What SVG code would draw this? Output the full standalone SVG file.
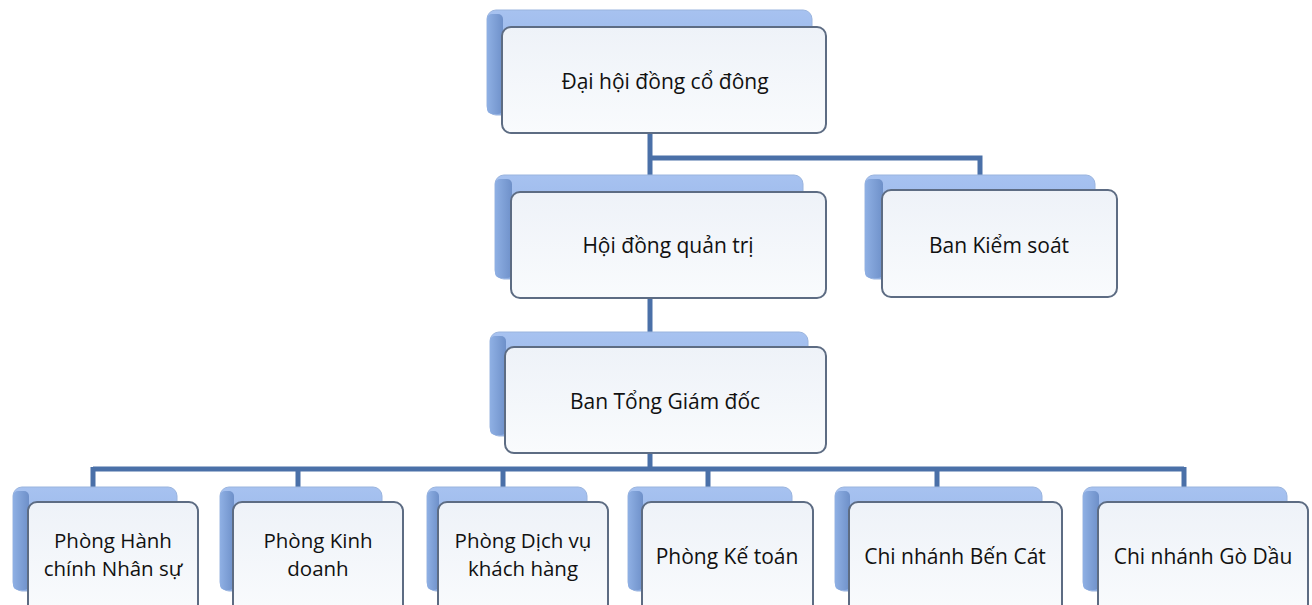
<svg xmlns="http://www.w3.org/2000/svg" width="1312" height="605" viewBox="0 0 1312 605">
<defs>
<linearGradient id="backG" x1="0" y1="0" x2="0" y2="1">
<stop offset="0" stop-color="#a7c2f0"/>
<stop offset="1" stop-color="#8aace3"/>
</linearGradient>
<linearGradient id="sideG" x1="0" y1="0" x2="1" y2="0">
<stop offset="0" stop-color="#8fb0e4"/>
<stop offset="1" stop-color="#6e90c9"/>
</linearGradient>
<linearGradient id="frontG" x1="0" y1="0" x2="0" y2="1">
<stop offset="0" stop-color="#eef2f8"/>
<stop offset="1" stop-color="#f9fbfd"/>
</linearGradient>
<style>
.back{fill:url(#backG);stroke:#9ab4de;stroke-width:1}
.side{fill:url(#sideG)}
.front{fill:url(#frontG);stroke:#5d6c83;stroke-width:2}
.lbl{font-family:"Open Sans","Noto Sans","Liberation Sans",sans-serif;font-size:21px;fill:#111;text-anchor:middle}
.two{font-size:20.5px}
.conn{fill:none;stroke:#4a70a8;stroke-width:5}
</style>
</defs>
<rect width="1312" height="605" fill="#ffffff"/>
<g id="connectors">
<path class="conn" d="M650,133 V180 M650,158 H980 V178 M650,298 V334 M650,453 V469 M93,469 H1184 M93,467 V489 M298,467 V489 M503,467 V489 M708,467 V489 M937,467 V489 M1184,467 V489"/>
</g>
<g id="n-dhdcd">
<rect class="back" x="487" y="10" width="325" height="105" rx="9"/>
<rect class="side" x="487" y="14" width="16" height="100" rx="5"/>
<rect class="front" x="502" y="27" width="324" height="106" rx="9"/>
<text class="lbl" x="665" y="89">Đại hội đồng cổ đông</text>
</g>
<g id="n-hdqt">
<rect class="back" x="495" y="175" width="308" height="104" rx="9"/>
<rect class="side" x="495" y="179" width="17" height="99" rx="5"/>
<rect class="front" x="511" y="192" width="315" height="106" rx="9"/>
<text class="lbl" x="668" y="253">Hội đồng quản trị</text>
</g>
<g id="n-bks">
<rect class="back" x="865" y="175" width="230" height="104" rx="9"/>
<rect class="side" x="865" y="179" width="18" height="99" rx="5"/>
<rect class="front" x="882" y="190" width="235" height="107" rx="9"/>
<text class="lbl" x="999" y="253">Ban Kiểm soát</text>
</g>
<g id="n-btgd">
<rect class="back" x="490" y="332" width="318" height="104" rx="9"/>
<rect class="side" x="490" y="336" width="16" height="99" rx="5"/>
<rect class="front" x="505" y="347" width="321" height="106" rx="9"/>
<text class="lbl" x="665" y="409">Ban Tổng Giám đốc</text>
</g>
<g id="n-hcns">
<rect class="back" x="13" y="487" width="164" height="104" rx="9"/>
<rect class="side" x="13" y="491" width="16" height="99" rx="5"/>
<rect class="front" x="28" y="502" width="170" height="112" rx="9"/>
<text class="lbl two" x="113" y="548">Phòng Hành</text>
<text class="lbl two" x="113" y="576">chính Nhân sự</text>
</g>
<g id="n-kd">
<rect class="back" x="220" y="487" width="162" height="104" rx="9"/>
<rect class="side" x="220" y="491" width="14" height="99" rx="5"/>
<rect class="front" x="233" y="502" width="170" height="112" rx="9"/>
<text class="lbl two" x="318" y="548">Phòng Kinh</text>
<text class="lbl two" x="318" y="576">doanh</text>
</g>
<g id="n-dvkh">
<rect class="back" x="427" y="487" width="160" height="104" rx="9"/>
<rect class="side" x="427" y="491" width="12" height="99" rx="5"/>
<rect class="front" x="438" y="502" width="170" height="112" rx="9"/>
<text class="lbl two" x="523" y="548">Phòng Dịch vụ</text>
<text class="lbl two" x="523" y="576">khách hàng</text>
</g>
<g id="n-kt">
<rect class="back" x="628" y="487" width="164" height="104" rx="9"/>
<rect class="side" x="628" y="491" width="15" height="99" rx="5"/>
<rect class="front" x="642" y="502" width="171" height="112" rx="9"/>
<text class="lbl" x="727" y="564">Phòng Kế toán</text>
</g>
<g id="n-bc">
<rect class="back" x="835" y="487" width="207" height="104" rx="9"/>
<rect class="side" x="835" y="491" width="15" height="99" rx="5"/>
<rect class="front" x="849" y="502" width="213" height="112" rx="9"/>
<text class="lbl" x="955" y="564">Chi nhánh Bến Cát</text>
</g>
<g id="n-gd">
<rect class="back" x="1083" y="487" width="204" height="104" rx="9"/>
<rect class="side" x="1083" y="491" width="16" height="99" rx="5"/>
<rect class="front" x="1098" y="502" width="210" height="112" rx="9"/>
<text class="lbl" x="1203" y="564">Chi nhánh Gò Dầu</text>
</g>
</svg>
